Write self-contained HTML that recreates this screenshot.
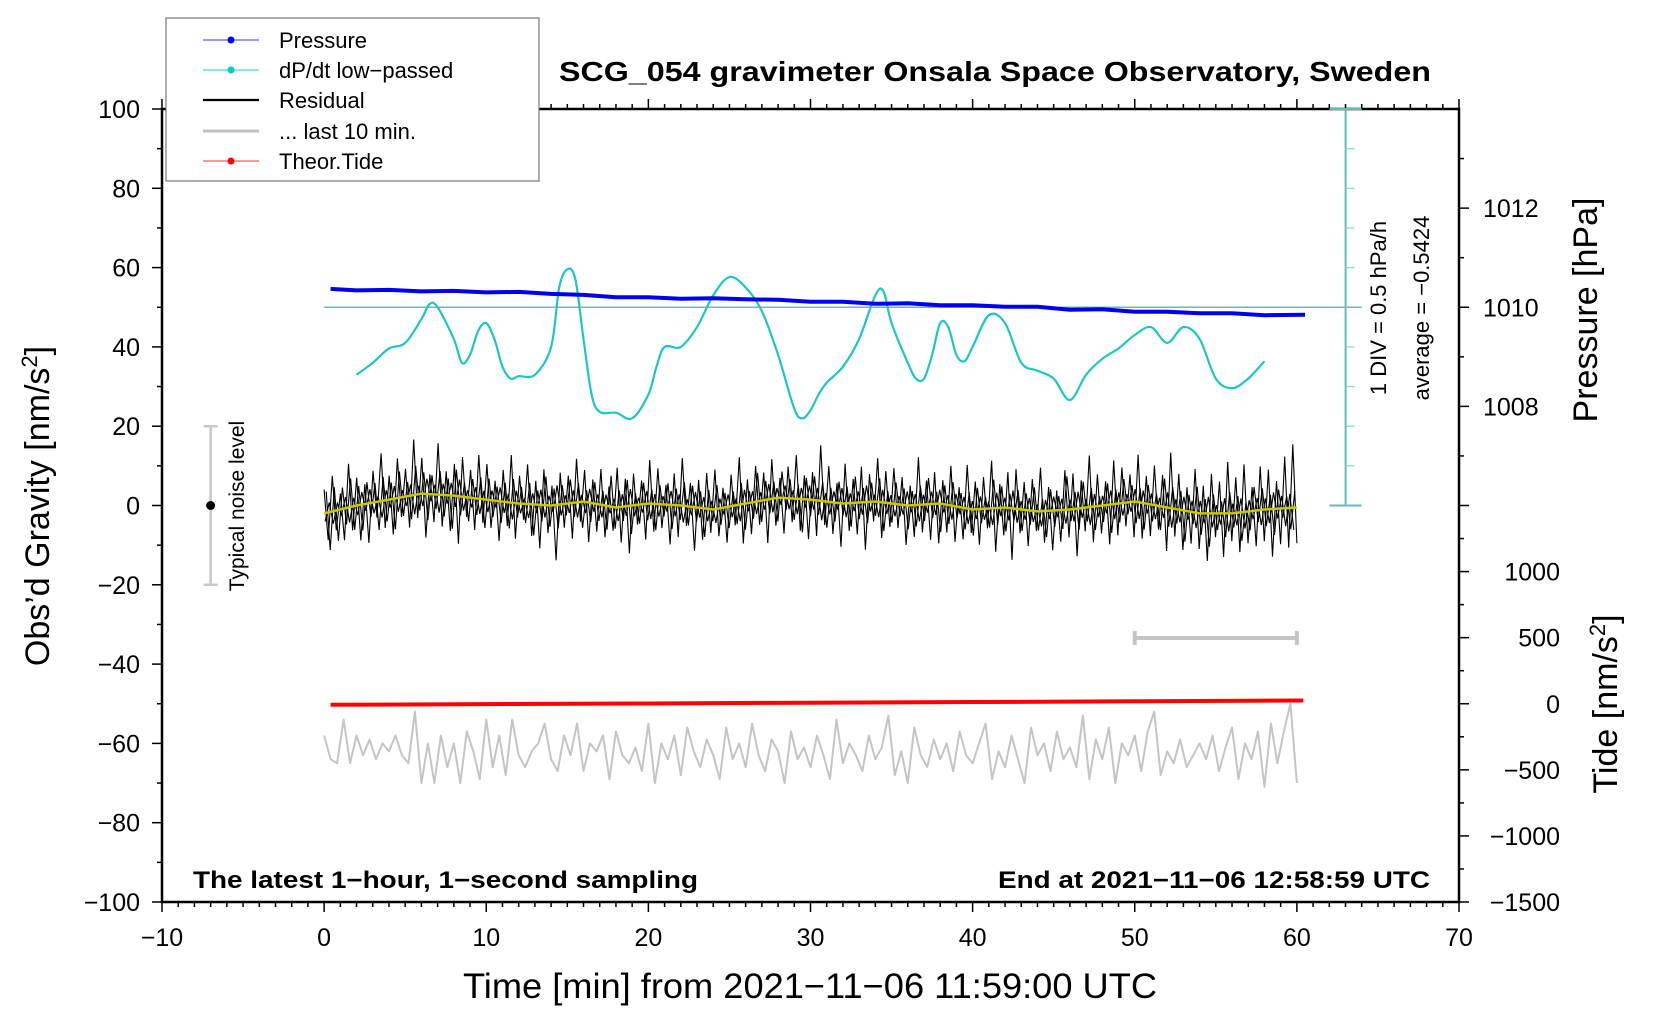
<!DOCTYPE html>
<html><head><meta charset="utf-8"><style>
html,body{margin:0;padding:0;background:#fff;}
svg{display:block;font-family:"Liberation Sans",Arial,sans-serif;}
</style></head><body>
<svg id="chart" width="1660" height="1020" viewBox="0 0 1660 1020" xmlns="http://www.w3.org/2000/svg">
<rect width="1660" height="1020" fill="#fff"/>
<g id="axes"></g>
<g id="series"></g>
<text x="995" y="81" text-anchor="middle" font-size="28" font-weight="bold" textLength="872" lengthAdjust="spacingAndGlyphs">SCG_054 gravimeter Onsala Space Observatory, Sweden</text>
<text x="193" y="888" font-size="24" font-weight="bold" textLength="505" lengthAdjust="spacingAndGlyphs">The latest 1−hour, 1−second sampling</text>
<text x="1430" y="888" text-anchor="end" font-size="24" font-weight="bold" textLength="432" lengthAdjust="spacingAndGlyphs">End at 2021−11−06 12:58:59 UTC</text>
<text x="810" y="998" text-anchor="middle" font-size="35" textLength="694" lengthAdjust="spacingAndGlyphs">Time [min] from 2021−11−06 11:59:00 UTC</text>
<text transform="translate(49,506) rotate(-90)" text-anchor="middle" font-size="34">Obs’d Gravity [nm/s<tspan dy="-12" font-size="22">2</tspan><tspan dy="12">]</tspan></text>
<text transform="translate(1597,310) rotate(-90)" text-anchor="middle" font-size="34">Pressure [hPa]</text>
<text transform="translate(1617,704) rotate(-90)" text-anchor="middle" font-size="34">Tide [nm/s<tspan dy="-12" font-size="22">2</tspan><tspan dy="12">]</tspan></text>
<text transform="translate(1386,308) rotate(-90)" text-anchor="middle" font-size="22">1 DIV = 0.5 hPa/h</text>
<text transform="translate(1429,308) rotate(-90)" text-anchor="middle" font-size="22">average = −0.5424</text>
<text transform="translate(244,506) rotate(-90)" text-anchor="middle" font-size="21">Typical noise level</text>
<g>
<rect x="166" y="18" width="373" height="163" fill="#fff" stroke="#777" stroke-width="1.2"/>
<g><line x1="203" y1="40" x2="259" y2="40" stroke="#33f" stroke-width="1"/><circle cx="231" cy="40" r="3.5" fill="#00f"/><text x="279" y="48" font-size="22">Pressure</text></g>
<g><line x1="203" y1="70" x2="259" y2="70" stroke="#2cc" stroke-width="1"/><circle cx="231" cy="70" r="3.5" fill="#0cc"/><text x="279" y="78" font-size="22">dP/dt low−passed</text></g>
<g><line x1="203" y1="100" x2="259" y2="100" stroke="#000" stroke-width="2.2"/><text x="279" y="108" font-size="22">Residual</text></g>
<g><line x1="203" y1="131" x2="259" y2="131" stroke="#c0c0c0" stroke-width="3"/><text x="279" y="139" font-size="22">... last 10 min.</text></g>
<g><line x1="203" y1="161" x2="259" y2="161" stroke="#f33" stroke-width="1"/><circle cx="231" cy="161" r="3.5" fill="#f00"/><text x="279" y="169" font-size="22">Theor.Tide</text></g>
</g>
</svg>
<script>
// ---- data ----
const xTicks = [-10,0,10,20,30,40,50,60,70];
const gravTicks = [100,80,60,40,20,0,-20,-40,-60,-80,-100];
const pressTicks = [1008,1010,1012];
const tideTicks = [1000,500,0,-500,-1000,-1500];
const pressTimes = [0.4,2,4,6,8,10,12,14,16,18,20,22,24,26,28,30,32,34,36,38,40,42,44,46,48,50,52,54,56,58,60.5];
const pressValues = [1010.37,1010.34,1010.35,1010.32,1010.33,1010.30,1010.31,1010.27,1010.25,1010.20,1010.20,1010.17,1010.18,1010.16,1010.15,1010.11,1010.11,1010.07,1010.08,1010.04,1010.04,1010.01,1010.01,1009.95,1009.96,1009.91,1009.91,1009.88,1009.88,1009.84,1009.85];
const dpdtTimes = [2,3,4,5,6,6.5,7,8,8.5,9,9.5,10,10.5,11,11.5,12,13,14,14.5,15,15.5,16,16.5,17,18,19,20,20.5,21,22,23,24,25,26,27,28,29,29.5,30,30.5,31,32,33,34,34.5,35,36,36.5,37,37.5,38,38.5,39,39.5,40,41,42,43,44,45,46,47,48,49,50,51,52,53,54,55,56,57,58];
const dpdtValues = [-0.85,-0.7,-0.52,-0.45,-0.15,0.04,0.0,-0.4,-0.7,-0.6,-0.3,-0.2,-0.4,-0.75,-0.9,-0.87,-0.85,-0.5,0.25,0.48,0.35,-0.4,-1.1,-1.32,-1.33,-1.4,-1.1,-0.75,-0.5,-0.5,-0.25,0.15,0.38,0.25,-0.05,-0.6,-1.28,-1.4,-1.3,-1.1,-0.95,-0.75,-0.4,0.15,0.2,-0.2,-0.7,-0.9,-0.9,-0.6,-0.2,-0.25,-0.6,-0.68,-0.5,-0.1,-0.2,-0.7,-0.8,-0.9,-1.17,-0.85,-0.65,-0.52,-0.35,-0.25,-0.45,-0.25,-0.4,-0.9,-1.02,-0.9,-0.68];
const meanTimes = [0,2,4,6,8,10,12,14,16,18,20,22,24,26,28,30,32,34,36,38,40,42,44,46,48,50,52,54,56,58,60];
const meanValues = [-2,0,1.5,3,2.5,1.5,0.5,0,1,-0.5,0.5,0,-1,0.5,2,1.5,0.5,1,0,0.5,-1,-0.5,-1.5,-1,0,1,-0.5,-2,-2,-1,-0.5];
const residualDev = [6,-7,9,-5,4,-8,11,-6,7,-9,5,-10,8,-4,12,-7,6,-9,10,-5,7,-8,14,-6,9,-11,5,-7,13,-8,6,-9,8,-12,10,-5,7,-8,11,-6,9,-7,5,-10,8,-6,12,-9,7,-4,10,-8,6,-11,9,-7,5,-14,8,-6,7,-9,11,-5,8,-10,6,-7,9,-8,5,-6,10,-9,7,-12,8,-5,6,-9,11,-7,9,-6,5,-10,8,-8,12,-5,6,-11,7,-8,9,-6,10,-7,5,-9,8,-5,12,-10,6,-8,9,-6,7,-11,10,-7,5,-9,8,-6,11,-8,6,-10,7,-9,14,-6,9,-8,5,-11,10,-7,6,-8,9,-12,7,-5,11,-9,8,-6,9,-6,7,-10,5,-8,12,-7,6,-9,8,-10,6,-7,10,-9,5,-8,11,-6,7,-9,8,-5,12,-11,6,-7,9,-13,10,-6,7,-9,8,-5,11,-8,6,-10,5,-8,10,-7,9,-12,7,-6,13,-9,8,-7,6,-10,11,-8,9,-6,7,-9,12,-9,7,-8,10,-6,8,-11,14,-7,9,-10,6,-8,11,-9,7,-12,10,-6,8,-11,13,-7,9,-10,12,-8,6,-9,11,-8,10,-12,7,-9,13,-10,16,-9];
const last10Values = [-58,-64,-65,-54,-65,-58,-63,-59,-64,-60,-62,-58,-63,-65,-52,-70,-60,-70,-58,-66,-60,-70,-57,-62,-69,-54,-66,-58,-68,-54,-63,-66,-62,-60,-55,-64,-67,-58,-63,-55,-67,-60,-62,-58,-69,-57,-63,-65,-61,-67,-55,-70,-60,-64,-58,-68,-56,-62,-66,-59,-63,-69,-56,-64,-60,-66,-55,-63,-67,-59,-62,-70,-57,-64,-61,-66,-58,-63,-69,-54,-65,-60,-63,-67,-58,-64,-61,-53,-68,-62,-70,-56,-63,-66,-59,-64,-60,-67,-57,-63,-65,-60,-55,-69,-62,-66,-58,-64,-70,-56,-63,-60,-67,-57,-64,-61,-66,-53,-69,-59,-64,-56,-70,-60,-63,-58,-67,-57,-52,-68,-62,-65,-59,-66,-63,-60,-64,-58,-67,-61,-56,-69,-60,-64,-57,-71,-55,-65,-57,-50,-70];
const tideTimes = [0.4,10,20,30,40,50,60.4];
const tideValues = [-8,-3,2,8,13,19,25];

// ---- axis functions ----
const X = t => 162 + (t + 10) * (1297 / 80);
const Y = g => 109 + (100 - g) * (793 / 200);
const P = p => Y(50 + (p - 1010) * 12.5);
const D = v => Y(50 + v * 20);
const T = v => Y(-50 + v / 30);
const NS = 'http://www.w3.org/2000/svg';
function mk(tag, attrs, parent) {
  const e = document.createElementNS(NS, tag);
  for (const k in attrs) e.setAttribute(k, attrs[k]);
  parent.appendChild(e);
  return e;
}
const axes = document.getElementById('axes');
const series = document.getElementById('series');

const frame = mk('rect', {x:162, y:109, width:1297, height:793, fill:'none', stroke:'#000', 'stroke-width':2.5}, axes);



for (let t = -10; t <= 70; t++) {
  const major = t % 10 === 0;
  const len = major ? 10 : 5;
  mk('line', {x1:X(t), y1:902, x2:X(t), y2:902 + len, stroke:'#000', 'stroke-width':1.5}, axes);
  mk('line', {x1:X(t), y1:109, x2:X(t), y2:109 - len, stroke:'#000', 'stroke-width':1.5}, axes);
}
xTicks.forEach(t => {
  const tx = mk('text', {x:X(t), y:946, 'text-anchor':'middle', 'font-size':25}, axes);
  tx.textContent = String(t).replace('-', '−');
  
  
});
for (let g = -100; g <= 100; g += 10) {
  const major = g % 20 === 0;
  mk('line', {x1:162, y1:Y(g), x2:162 - (major ? 10 : 5), y2:Y(g), stroke:'#000', 'stroke-width':1.5}, axes);
}
gravTicks.forEach(g => {
  const tx = mk('text', {x:140, y:Y(g) + 9, 'text-anchor':'end', 'font-size':25}, axes);
  tx.textContent = String(g).replace('-', '−');
  
  
});
for (let p = 1007; p <= 1013; p++) {
  const major = p % 2 === 0;
  mk('line', {x1:1459, y1:P(p), x2:1459 + (major ? 10 : 5), y2:P(p), stroke:'#000', 'stroke-width':1.5}, axes);
}
pressTicks.forEach(p => {
  const tx = mk('text', {x:1483, y:P(p) + 9, 'font-size':25}, axes);
  tx.textContent = p;
  
  
});
for (let v = -1500; v <= 1500; v += 250) {
  const major = v % 500 === 0;
  mk('line', {x1:1459, y1:T(v), x2:1459 + (major ? 10 : 5), y2:T(v), stroke:'#000', 'stroke-width':1.5}, axes);
}
tideTicks.forEach(v => {
  const tx = mk('text', {x:1560, y:T(v) + 9, 'text-anchor':'end', 'font-size':25}, axes);
  tx.textContent = String(v).replace('-', '−');
  
  
});

const sx = 1345.6;
const scale = mk('g', {}, axes);


mk('line', {x1:sx, y1:D(2.5), x2:sx, y2:D(-2.5), stroke:'#5bbfbf', 'stroke-width':2}, scale);
mk('line', {x1:sx - 16, y1:D(2.5), x2:sx + 16, y2:D(2.5), stroke:'#5bbfbf', 'stroke-width':2}, scale);
mk('line', {x1:sx - 16, y1:D(-2.5), x2:sx + 16, y2:D(-2.5), stroke:'#5bbfbf', 'stroke-width':2}, scale);
for (let v = -2; v <= 2; v += 0.5) {
  mk('line', {x1:sx, y1:D(v), x2:sx + 9, y2:D(v), stroke:'#8fd3d3', 'stroke-width':1.3}, scale);
}
mk('line', {x1:X(0), y1:D(0), x2:sx + 16, y2:D(0), stroke:'#5bbfbf', 'stroke-width':1.5}, scale);

const nb = mk('g', {}, axes);


mk('line', {x1:X(-7), y1:Y(20), x2:X(-7), y2:Y(-20), stroke:'#c8c8c8', 'stroke-width':2.5}, nb);
mk('line', {x1:X(-7) - 7, y1:Y(20), x2:X(-7) + 7, y2:Y(20), stroke:'#c8c8c8', 'stroke-width':2.5}, nb);
mk('line', {x1:X(-7) - 7, y1:Y(-20), x2:X(-7) + 7, y2:Y(-20), stroke:'#c8c8c8', 'stroke-width':2.5}, nb);
mk('circle', {cx:X(-7), cy:Y(0), r:4.5, fill:'#000'}, nb);

const lb = mk('g', {}, axes);


mk('line', {x1:X(50), y1:638, x2:X(60), y2:638, stroke:'#c4c4c4', 'stroke-width':4}, lb);
mk('line', {x1:X(50), y1:631, x2:X(50), y2:645, stroke:'#c4c4c4', 'stroke-width':4}, lb);
mk('line', {x1:X(60), y1:631, x2:X(60), y2:645, stroke:'#c4c4c4', 'stroke-width':4}, lb);

function interp(ts, vs, t) {
  if (t <= ts[0]) return vs[0];
  for (let i = 1; i < ts.length; i++) if (t <= ts[i]) {
    const f = (t - ts[i-1]) / (ts[i] - ts[i-1]);
    return vs[i-1] + f * (vs[i] - vs[i-1]);
  }
  return vs[vs.length - 1];
}
function smoothPath(pts) {
  let d = 'M' + pts[0][0].toFixed(1) + ',' + pts[0][1].toFixed(1);
  for (let i = 0; i < pts.length - 1; i++) {
    const p0 = pts[i-1] || pts[i], p1 = pts[i], p2 = pts[i+1], p3 = pts[i+2] || p2;
    const c1 = [p1[0] + (p2[0] - p0[0]) / 6, p1[1] + (p2[1] - p0[1]) / 6];
    const c2 = [p2[0] - (p3[0] - p1[0]) / 6, p2[1] - (p3[1] - p1[1]) / 6];
    d += 'C' + c1[0].toFixed(1) + ',' + c1[1].toFixed(1) + ' ' + c2[0].toFixed(1) + ',' + c2[1].toFixed(1) + ' ' + p2[0].toFixed(1) + ',' + p2[1].toFixed(1);
  }
  return d;
}

const lastPts = last10Values.map((v, i) => [X(i * 60 / (last10Values.length - 1)), Y(v)]);
const grayLine = mk('polyline', {points: lastPts.map(p => p.join(',')).join(' '), fill:'none', stroke:'#c4c4c4', 'stroke-width':2, 'stroke-linejoin':'round'}, series);



const tidePts = tideTimes.map((t, i) => [X(t), T(tideValues[i])]);
const tideLine = mk('polyline', {points: tidePts.map(p => p.join(',')).join(' '), fill:'none', stroke:'#f00', 'stroke-width':4}, series);



// residual (black): main trace plus an interleaved finer trace from the same data
const n = residualDev.length;
const resPts = residualDev.map((dv, i) => {
  const t = i * 60 / (n - 1);
  return [X(t), Y(interp(meanTimes, meanValues, t) + dv)];
});
const resLine = mk('polyline', {points: resPts.map(p => p[0].toFixed(1) + ',' + p[1].toFixed(1)).join(' '), fill:'none', stroke:'#000', 'stroke-width':1.1}, series);


const step = 60 / (n - 1);
const corePts = residualDev.slice(0, n - 1).map((dv, i) => {
  const t = i * step + step / 2;
  const alt = residualDev[n - 1 - i];
  return X(t).toFixed(1) + ',' + Y(interp(meanTimes, meanValues, t) - alt * 0.6).toFixed(1);
});
const resCore = mk('polyline', {points: corePts.join(' '), fill:'none', stroke:'#000', 'stroke-width':1.1}, series);


const corePts2 = residualDev.slice(0, n - 1).map((dv, i) => {
  const t = i * step + step / 4;
  return X(t).toFixed(1) + ',' + Y(interp(meanTimes, meanValues, t) - dv * 0.35).toFixed(1);
});
const resCore2 = mk('polyline', {points: corePts2.join(' '), fill:'none', stroke:'#000', 'stroke-width':1.1}, series);



const meanPts = meanTimes.map((t, i) => [X(t), Y(meanValues[i])]);
const meanLine = mk('polyline', {points: meanPts.map(p => p[0].toFixed(1) + ',' + p[1].toFixed(1)).join(' '), fill:'none', stroke:'#c8c800', 'stroke-width':2.5}, series);



const dPts = dpdtTimes.map((t, i) => [X(t), D(dpdtValues[i])]);
const dLine = mk('path', {d: smoothPath(dPts), fill:'none', stroke:'#1cc6c6', 'stroke-width':2.2}, series);



const pPts = pressTimes.map((t, i) => [X(t), P(pressValues[i])]);
const pLine = mk('polyline', {points: pPts.map(p => p[0].toFixed(1) + ',' + p[1].toFixed(1)).join(' '), fill:'none', stroke:'#0000f0', 'stroke-width':4, 'stroke-linejoin':'round'}, series);


</script>
</body></html>
